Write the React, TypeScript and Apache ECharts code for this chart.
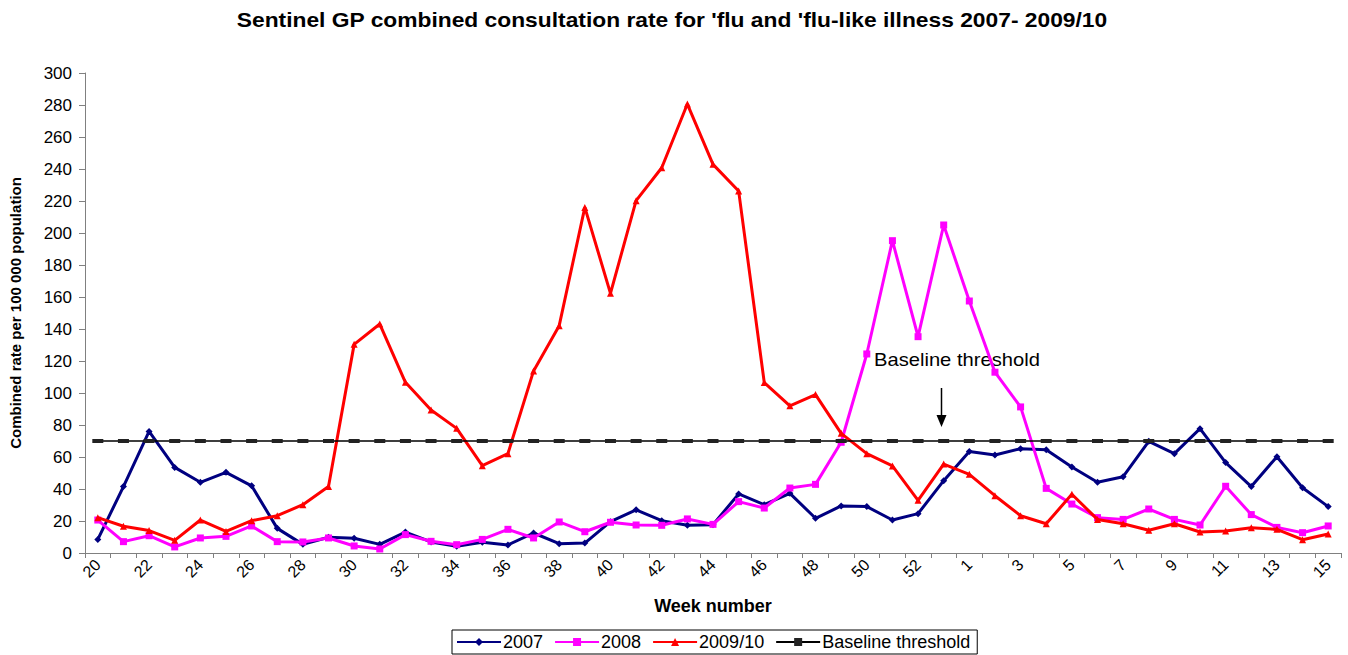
import React, { useEffect, useRef } from "react";
import * as echarts from "echarts";

const weeks = [
  "20", "21", "22", "23", "24", "25", "26", "27", "28", "29", "30", "31", "32", "33", "34", "35", "36",
  "37", "38", "39", "40", "41", "42", "43", "44", "45", "46", "47", "48", "49", "50", "51", "52", "53",
  "1", "2", "3", "4", "5", "6", "7", "8", "9", "10", "11", "12", "13", "14", "15",
];

const rate2007 = [
  8.5, 41.5, 76, 53.5, 44.2, 50.4, 42, 15.4, 5.4, 9.8, 9.2, 5.4, 13.1, 6.9, 4.2, 6.7, 5,
  12.5, 5.8, 6.2, 19.6, 27, 20.2, 17.3, 17.7, 36.9, 30.2, 37.3, 21.7, 29.4, 29, 20.6, 24.6, 45.2,
  63.5, 61.3, 65.2, 64.6, 53.8, 44.2, 47.7, 69.8, 62.1, 77.7, 56.5, 41.5, 60.2, 40.8, 29,
];

const rate2008 = [
  20.6, 7.1, 10.8, 3.8, 9.4, 10.4, 16.9, 7.1, 6.9, 9.4, 4.4, 2.5, 11.5, 7.3, 5.2, 8.5, 14.8,
  9.4, 19.4, 13.3, 19.2, 17.5, 17.3, 21.3, 17.9, 32.1, 28.1, 40.6, 42.9, 69.2, 124.4, 195.2, 135.2, 205,
  157.5, 113, 91.3, 40.4, 30.6, 22.1, 21, 27.5, 21, 17.5, 41.7, 24, 16, 12.7, 16.9,
];

const rate2009 = [
  22.1, 16.7, 14, 7.9, 20.6, 13.5, 20.2, 23.3, 30.2, 41.5, 130.4, 143.1, 106.7, 89.4, 77.9, 54.6, 62.1,
  113.8, 142.1, 216, 162.3, 220.2, 240.8, 280.6, 242.9, 226.3, 106.5, 92, 99, 74.8, 62.1, 54.4, 32.9, 55.6,
  49.2, 35.8, 23.3, 18.3, 36.7, 21, 18.3, 14.2, 18.3, 13.1, 13.8, 15.8, 14.8, 8.3, 11.9,
];

const baselineThreshold = [
  70, 70, 70, 70, 70, 70, 70, 70, 70, 70, 70, 70, 70, 70, 70, 70, 70,
  70, 70, 70, 70, 70, 70, 70, 70, 70, 70, 70, 70, 70, 70, 70, 70, 70,
  70, 70, 70, 70, 70, 70, 70, 70, 70, 70, 70, 70, 70, 70, 70,
];

const yTicks = { min: 0, max: 300, interval: 20 };

const TITLE = "Sentinel GP combined consultation rate for 'flu and 'flu-like illness 2007- 2009/10";
const FONT = '"Liberation Sans", Arial, sans-serif';

export default function App() {
  const ref = useRef<HTMLDivElement>(null);

  useEffect(() => {
    document.body.style.margin = "0";
    const chart = echarts.init(ref.current!, null, { renderer: "svg" });
    const option: any = {
      animation: false,
      backgroundColor: "#fff",
      textStyle: { fontFamily: FONT },
      grid: { left: 84, right: 7, top: 73, bottom: 102, containLabel: false },
      legend: {
        left: 452,
        top: 630,
        itemWidth: 44,
        itemHeight: 10,
        itemGap: 11,
        padding: [3, 7, 3, 4],
        borderColor: "#000",
        borderWidth: 1,
        borderRadius: 0,
        textStyle: { fontSize: 18, color: "#000", fontFamily: FONT, padding: [0, 0, 0, -3] },
        data: ["2007", "2008", "2009/10", "Baseline threshold"],
      },
      xAxis: {
        type: "category",
        data: weeks,
        boundaryGap: true,
        name: "Week number",
        nameLocation: "middle",
        nameGap: 44,
        nameTextStyle: { fontSize: 18, fontWeight: "bold", color: "#000", fontFamily: FONT },
        axisLine: { lineStyle: { color: "#808080", width: 1 } },
        axisTick: { show: true, interval: 0, alignWithLabel: false, length: 5, lineStyle: { color: "#808080" } },
        axisLabel: { interval: 1, rotate: 45, fontSize: 16, color: "#000", margin: 9, fontFamily: FONT },
        splitLine: { show: false },
      },
      yAxis: {
        type: "value",
        min: yTicks.min,
        max: yTicks.max,
        interval: yTicks.interval,
        name: "Combined rate per 100 000 population",
        nameLocation: "middle",
        nameGap: 62,
        nameRotate: 90,
        nameTextStyle: { fontSize: 15, fontWeight: "bold", color: "#000", fontFamily: FONT },
        axisLine: { show: true, lineStyle: { color: "#808080", width: 1 } },
        axisTick: { show: true, length: 6, lineStyle: { color: "#808080" } },
        axisLabel: { fontSize: 17, color: "#000", margin: 13, fontFamily: FONT },
        splitLine: { show: false },
      },
      series: [
        {
          name: "2007",
          type: "line",
          data: rate2007,
          symbol: "diamond",
          symbolSize: 7,
          lineStyle: { color: "#000080", width: 3 },
          itemStyle: { color: "#000080" },
          z: 2,
        },
        {
          name: "2008",
          type: "line",
          data: rate2008,
          symbol: "rect",
          symbolSize: 7,
          lineStyle: { color: "#FF00FF", width: 3 },
          itemStyle: { color: "#FF00FF" },
          z: 3,
        },
        {
          name: "2009/10",
          type: "line",
          data: rate2009,
          symbol: "triangle",
          symbolSize: 7,
          lineStyle: { color: "#FF0000", width: 3 },
          itemStyle: { color: "#FF0000" },
          z: 4,
        },
        {
          name: "Baseline threshold",
          type: "line",
          data: baselineThreshold,
          symbol: "rect",
          symbolSize: [11, 4],
          lineStyle: { color: "#000", width: 1.5 },
          itemStyle: { color: "#222" },
          z: 5,
        },
      ],
      graphic: [
        {
          type: "text",
          x: 672,
          y: 20,
          scaleX: 1.14,
          style: {
            text: TITLE,
            font: 'bold 20px "Liberation Sans", Arial, sans-serif',
            fill: "#000",
            align: "center",
            verticalAlign: "middle",
          },
        },
        {
          type: "text",
          x: 874,
          y: 360,
          scaleX: 1.12,
          style: {
            text: "Baseline threshold",
            font: '18px "Liberation Sans", Arial, sans-serif',
            fill: "#000",
            verticalAlign: "middle",
          },
        },
        {
          type: "line",
          shape: { x1: 941.5, y1: 388, x2: 941.5, y2: 418 },
          style: { stroke: "#000", lineWidth: 1.5 },
        },
        {
          type: "polygon",
          shape: { points: [[936.5, 415], [946.5, 415], [941.5, 427]] },
          style: { fill: "#000" },
        },
      ],
    };
    chart.setOption(option);
    return () => chart.dispose();
  }, []);

  return (
    <div
      ref={ref}
      style={{ position: "absolute", left: 0, top: 0, width: 1348, height: 655 }}
    />
  );
}
